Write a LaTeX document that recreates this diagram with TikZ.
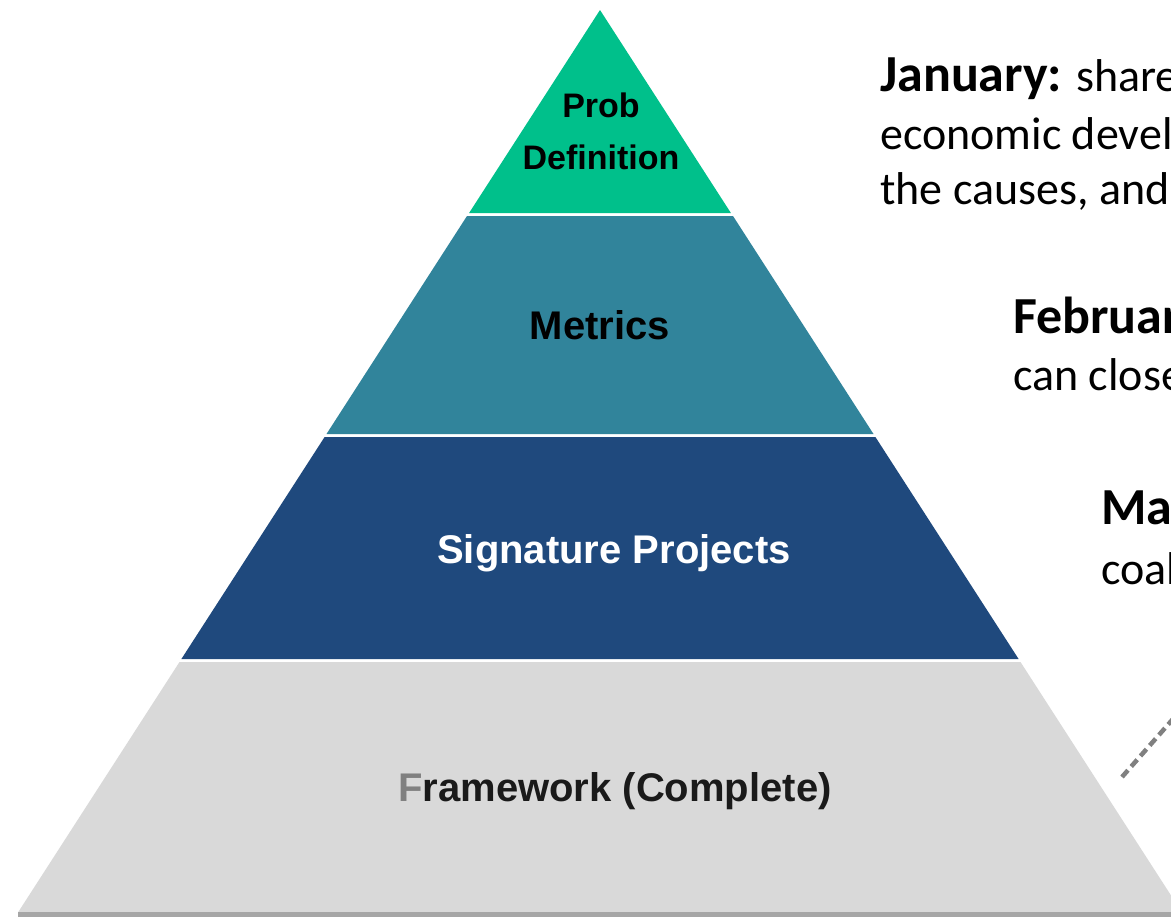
\documentclass[tikz,border=0pt]{standalone}
\usepackage{fontspec}
\setmainfont{Liberation Sans}
\newfontfamily\calfont{Carlito}
\definecolor{lgreen}{HTML}{00C08B}
\definecolor{lteal}{HTML}{31849B}
\definecolor{lnavy}{HTML}{1F497D}
\definecolor{lgray}{HTML}{D9D9D9}
\definecolor{lshadow}{HTML}{A6A6A6}
\definecolor{ftext}{HTML}{1A1A1A}
\definecolor{fgrey}{HTML}{808080}
\newcommand\sidebold[1]{{\fontsize{52}{56}\selectfont\bfseries #1}}
\tikzset{
  layerlabel/.style={anchor=base, inner sep=0pt, font=\bfseries\fontsize{40}{48}\selectfont, align=center},
  toplabel/.style={anchor=base, inner sep=0pt, font=\bfseries\fontsize{34}{52}\selectfont, align=center},
  sidetext/.style={anchor=base west, inner sep=0pt, font=\calfont\fontsize{46}{56}\selectfont},
  dashline/.style={draw=fgrey, line width=4.5pt, dash pattern=on 9pt off 5pt}
}
\begin{document}
\begin{tikzpicture}[x=1pt,y=-1pt]
\useasboundingbox (0,0) rectangle (1171,918);
\clip (0,0) rectangle (1171,918);
\fill[white] (0,0) rectangle (1171,918);
% layers
\fill[lgreen] (600,10) -- (730.9,213) -- (469.1,213) -- cycle;
\fill[lteal] (467,216) -- (733,216) -- (873.5,434) -- (326.5,434) -- cycle;
\fill[lnavy] (324.6,437) -- (875.4,437) -- (1018.6,659) -- (181.4,659) -- cycle;
\fill[lgray] (179.5,662) -- (1020.5,662) -- (1181.7,912) -- (18.3,912) -- cycle;
\fill[lshadow] (18.3,912) rectangle (1182,917);
% labels
\node[toplabel, text=black] (prob) at (601,117) {Prob};
\node[toplabel, text=black] (def) at (601,169) {Definition};
\node[layerlabel, text=black] (metrics) at (600,339) {Metrics};
\node[layerlabel, text=white] (sig) at (614,563) {Signature Projects};
\node[layerlabel, text=ftext] (frame) at (615,801) {\textcolor{fgrey}{F}ramework (Complete)};
% side texts
\node[sidetext] (jan1) at (880,91) {\sidebold{January:} share};
\node[sidetext] (jan2) at (880,149) {economic devel};
\node[sidetext] (jan3) at (880,204) {the causes, and};
\node[sidetext] (feb1) at (1013,333) {\sidebold{Februar}};
\node[sidetext] (feb2) at (1013,390) {can close};
\node[sidetext] (mar1) at (1101,524) {\sidebold{Ma}};
\node[sidetext] (mar2) at (1101,584) {coal};
% dashed connector stub
\coordinate (d1) at (1122,777);
\coordinate (d2) at (1180,711);
\draw[dashline] (d1) -- (d2);
\end{tikzpicture}
\end{document}
